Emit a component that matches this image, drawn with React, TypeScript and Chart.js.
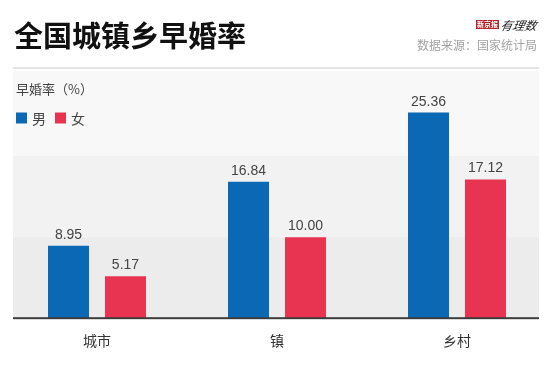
import React, { useEffect, useRef } from 'react';
import { Chart, registerables } from 'chart.js';

Chart.register(...registerables);

const categories = ['城市', '镇', '乡村'];
const seriesLabels = ['男', '女'];
const maleValues = [8.95, 16.84, 25.36];
const femaleValues = [5.17, 10.0, 17.12];
const seriesColors = ['#0a68b4', '#e83451'];
const bandTicks = [0, 10, 20, 30];
const bandColors = ['#ececec', '#f2f2f2', '#f8f8f8'];
const title = '全国城镇乡早婚率';
const sourceText = '数据来源：国家统计局';
const unitLabel = '早婚率（%）';

const CJK = '"Noto Sans CJK SC", "Noto Sans", sans-serif';
const NUM = '"Liberation Sans", Arial, sans-serif';

const decorPlugin = {
  id: 'decor',
  beforeDatasetsDraw(chart: any) {
    const { ctx, chartArea, scales } = chart;
    const y = scales.y;
    const left = chartArea.left + 6;
    const right = chartArea.right - 8;
    ctx.save();
    for (let i = 0; i < bandTicks.length - 1; i++) {
      const yb = y.getPixelForValue(bandTicks[i]);
      let yt = y.getPixelForValue(bandTicks[i + 1]);
      if (i === bandTicks.length - 2) yt = chartArea.top - 4;
      ctx.fillStyle = bandColors[i];
      ctx.fillRect(left, yt, right - left, yb - yt);
    }
    ctx.fillStyle = '#e4e4e4';
    ctx.fillRect(left, chartArea.top - 8, right - left, 2);
    ctx.fillStyle = '#444';
    ctx.font = `13px ${CJK}`;
    ctx.textBaseline = 'middle';
    ctx.textAlign = 'left';
    ctx.fillText(unitLabel, left + 3, chartArea.top + 14);
    let x = left + 3;
    const ly = chartArea.top + 43;
    chart.data.datasets.forEach((ds: any) => {
      ctx.fillStyle = ds.backgroundColor;
      ctx.fillRect(x, ly - 5.5, 11, 11);
      ctx.fillStyle = '#444';
      ctx.font = `14px ${CJK}`;
      ctx.fillText(ds.label, x + 16, ly + 0.5);
      x += 39;
    });
    ctx.restore();
  },
  afterDatasetsDraw(chart: any) {
    const { ctx, chartArea } = chart;
    const left = chartArea.left + 6;
    const right = chartArea.right - 8;
    ctx.save();
    ctx.fillStyle = '#3c3c3c';
    ctx.fillRect(left, chartArea.bottom - 1, right - left, 2);
    ctx.font = `14px ${NUM}`;
    ctx.fillStyle = '#444';
    ctx.textAlign = 'center';
    ctx.textBaseline = 'alphabetic';
    chart.data.datasets.forEach((ds: any, di: number) => {
      const meta = chart.getDatasetMeta(di);
      meta.data.forEach((bar: any, i: number) => {
        ctx.fillText(Number(ds.data[i]).toFixed(2), bar.x, bar.y - 7);
      });
    });
    ctx.restore();
  },
};

export default function App() {
  const ref = useRef<HTMLCanvasElement>(null);
  useEffect(() => {
    if (!ref.current) return;
    const chart = new Chart(ref.current, {
      type: 'bar',
      data: {
        labels: categories,
        datasets: [
          { label: seriesLabels[0], data: maleValues, backgroundColor: seriesColors[0] },
          { label: seriesLabels[1], data: femaleValues, backgroundColor: seriesColors[1] },
        ],
      },
      options: {
        animation: false,
        responsive: false,
        devicePixelRatio: 1,
        layout: { padding: { left: 7, right: 7, top: 75, bottom: 2 } },
        datasets: {
          bar: { categoryPercentage: 0.633, barPercentage: 0.72 },
        },
        plugins: { legend: { display: false }, tooltip: { enabled: false }, title: { display: false } },
        scales: {
          x: {
            grid: { display: false, drawTicks: false },
            border: { display: false },
            ticks: { padding: 14, color: '#333', font: { family: CJK, size: 14 } },
          },
          y: { display: false, min: 0, max: 30 },
        },
      },
      plugins: [decorPlugin],
    });
    return () => chart.destroy();
  }, []);

  return (
    <div style={{ position: 'fixed', left: 0, top: 0, width: 554, height: 365, background: '#fff', overflow: 'hidden' }}>
      <canvas ref={ref} width={554} height={365} style={{ position: 'absolute', left: 0, top: 0, display: 'block' }} />
      <div style={{ position: 'absolute', left: 14, top: 19, fontFamily: CJK, fontWeight: 700, fontSize: 29, lineHeight: '30px', color: '#111', whiteSpace: 'nowrap' }}>{title}</div>
      <div style={{ position: 'absolute', right: 17, top: 16, display: 'flex', alignItems: 'center', whiteSpace: 'nowrap' }}>
        <span style={{ background: '#b3262c', color: '#fff', fontFamily: CJK, fontWeight: 700, fontSize: 7, lineHeight: '9px', padding: '0 1px', letterSpacing: 0 }}>新京报</span>
        <span style={{ fontFamily: CJK, fontSize: 12, fontStyle: 'italic', color: '#222', marginLeft: 2, transform: 'skewX(-12deg)', display: 'inline-block' }}>有理数</span>
      </div>
      <div style={{ position: 'absolute', right: 17, top: 37, fontFamily: CJK, fontSize: 12, lineHeight: '16px', color: '#a3a3a3', whiteSpace: 'nowrap' }}>{sourceText}</div>
    </div>
  );
}
